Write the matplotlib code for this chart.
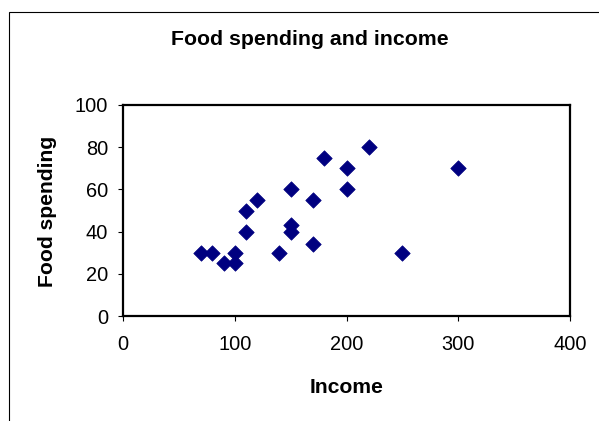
import matplotlib
matplotlib.use('Agg')
import matplotlib.pyplot as plt
from matplotlib.patches import Rectangle

# 收入与食品支出数据
income = [70, 80, 90, 100, 100, 110, 110, 120, 140, 150,
          150, 150, 170, 170, 180, 200, 200, 220, 250, 300]
food = [30, 30, 25, 30, 25, 40, 50, 55, 30, 60,
        43, 40, 55, 34, 75, 70, 60, 80, 30, 70]
x_ticks = [0, 100, 200, 300, 400]
y_ticks = [0, 20, 40, 60, 80, 100]

plt.rcParams['font.family'] = ['Liberation Sans', 'DejaVu Sans']

fig = plt.figure(figsize=(5.99, 4.21), dpi=100)
W, H = 599, 421

# 图表外框（右边和下边超出画面）
fig.patches.append(Rectangle((9 / W, -0.05), 1.2, (H - 12) / H + 0.05,
                             transform=fig.transFigure, fill=False,
                             edgecolor='black', linewidth=0.8))

ax = fig.add_axes([123 / W, 1 - 316 / H, (570 - 123) / W, (316 - 105) / H])
ax.scatter(income, food, marker='D', s=62, c='#000080', edgecolors='#000080',
           linewidths=0.5, zorder=3)

ax.set_xlim(0, 400)
ax.set_ylim(0, 100)
ax.set_xticks(x_ticks)
ax.set_yticks(y_ticks)
for s in ax.spines.values():
    s.set_linewidth(1.6)
ax.tick_params(axis='both', direction='out', length=3.6, width=0.8, labelsize=14.4)
ax.tick_params(axis='x', pad=10)
ax.tick_params(axis='y', pad=7)

fig.text(310 / W, 1 - 45 / H, 'Food spending and income', ha='center', va='baseline',
         fontsize=15.3, fontweight='bold')
fig.text(347 / W, 1 - 393 / H, 'Income', ha='center', va='baseline',
         fontsize=15.2, fontweight='bold')
fig.text(48 / W, 1 - 211 / H, 'Food spending', ha='center', va='center',
         rotation=90, fontsize=15.2, fontweight='bold')

plt.savefig('out.png', dpi=100)
